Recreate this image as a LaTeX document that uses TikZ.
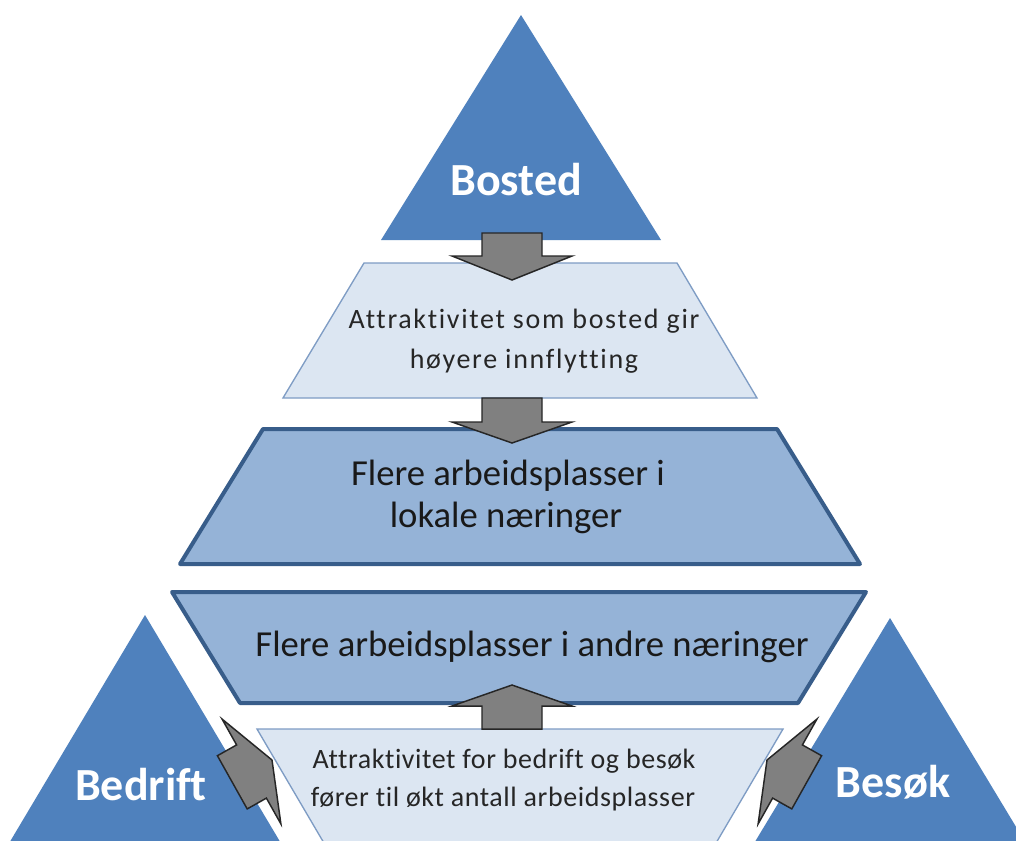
\documentclass[tikz,border=0pt]{standalone}
\usepackage{fontspec}
\setmainfont[Ligatures=NoCommon]{Carlito}
\newfontfamily\spacedfont[LetterSpace=6,Ligatures=NoCommon]{Carlito}
\newfontfamily\slightfont[LetterSpace=2,Ligatures=NoCommon]{Carlito}
\definecolor{triblue}{HTML}{4F81BD}
\definecolor{midblue}{HTML}{95B3D7}
\definecolor{darkedge}{HTML}{385D8A}
\definecolor{lightfill}{HTML}{DCE6F2}
\definecolor{lightedge}{HTML}{7E9CC4}
\definecolor{arrowgray}{HTML}{808080}
\begin{document}
\begin{tikzpicture}[x=0.75pt,y=-0.75pt,
  tri/.style={fill=triblue},
  darktrap/.style={fill=midblue,draw=darkedge,line width=3pt,line join=round},
  lighttrap/.style={fill=lightfill,draw=lightedge,line width=1pt},
  blockarrow/.style={fill=arrowgray,draw=black!85,line width=1.1pt,line join=miter},
  trilabel/.style={text=white,font=\bfseries\fontsize{34.5}{40}\selectfont,inner sep=0pt,anchor=base},
  smalltext/.style={text=black!85,inner sep=0pt,anchor=base},
  bigtext/.style={text=black!90,font=\fontsize{27.5}{31}\selectfont,inner sep=0pt,anchor=base}]
\useasboundingbox (0,0) rectangle (1016,840);
\clip (0,0) rectangle (1016,840);
\fill[white] (0,0) rectangle (1016,840);

% triangles
\path[tri] (521,15) -- (661,240) -- (381,240) -- cycle;
\path[tri] (145,615) -- (285,850) -- (5,850) -- cycle;
\path[tri] (890,618) -- (1030,850) -- (750,850) -- cycle;

% trapezoids
\path[lighttrap] (364,263) -- (677,263) -- (757,398) -- (283,398) -- cycle;
\path[darktrap] (263,429) -- (777,429) -- (860,564) -- (180,564) -- cycle;
\path[darktrap] (172,592) -- (866,592) -- (798,703) -- (240,703) -- cycle;
\path[lighttrap] (257,729) -- (783,729) -- (709,855) -- (331,855) -- cycle;

% block arrows
\path[blockarrow] (482,233) -- (542,233) -- (542,256) -- (572,256) -- (512,280) -- (452,256) -- (482,256) -- cycle;
\path[blockarrow] (482,398) -- (542,398) -- (542,422) -- (572,422) -- (512,443) -- (452,422) -- (482,422) -- cycle;
\path[blockarrow] (482,729) -- (542,729) -- (542,706) -- (572,706) -- (512,685) -- (452,706) -- (482,706) -- cycle;
\path[blockarrow] (217.4,755.7) -- (236.6,744.9) -- (222.1,719.1) -- (272,760) -- (280.9,823.9) -- (266.4,798.1) -- (247.2,808.9) -- cycle;
\path[blockarrow] (821.6,755.7) -- (802.4,744.9) -- (816.9,719.1) -- (767,760) -- (758.1,823.9) -- (772.6,798.1) -- (791.8,808.9) -- cycle;

% labels
\node[trilabel] (bosted) at (516,195) {Bosted};
\node[trilabel] (bedrift) at (141,800) {Bedrift};
\node[trilabel] (besok) at (893,797) {Besøk};

\node[smalltext,font=\spacedfont\fontsize{21}{30}\selectfont] (t1a) at (524,328) {Attraktivitet som bosted gir};
\node[smalltext,font=\spacedfont\fontsize{21}{30}\selectfont] (t1b) at (524,368) {høyere innflytting};

\node[bigtext] (t2a) at (508,485) {Flere arbeidsplasser i};
\node[bigtext] (t2b) at (506,527) {lokale næringer};

\node[bigtext] (t3) at (532,656) {Flere arbeidsplasser i andre næringer};

\node[smalltext,font=\slightfont\fontsize{21}{29}\selectfont] (t4a) at (504,768) {Attraktivitet for bedrift og besøk};
\node[smalltext,font=\slightfont\fontsize{21}{29}\selectfont] (t4b) at (503,806) {fører til økt antall arbeidsplasser};
\end{tikzpicture}
\end{document}
